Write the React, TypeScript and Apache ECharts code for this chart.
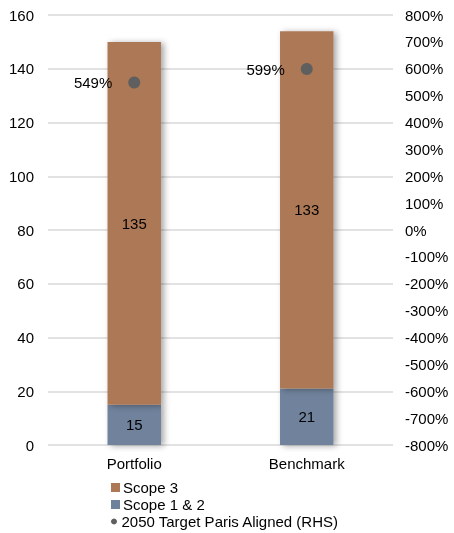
import React, { useEffect, useRef } from "react";
import * as echarts from "echarts";

const categories = ["Portfolio", "Benchmark"];
const scope12 = [15, 21];
const scope3 = [135, 133];
const targetPct = [549, 599];

const leftTicks = { min: 0, max: 160, interval: 20 };
const rightTicks = { min: -800, max: 800, interval: 100 };

const legendItems = [
  { name: "Scope 3", icon: "rect" },
  { name: "Scope 1 & 2", icon: "rect" },
  { name: "2050 Target Paris Aligned (RHS)", icon: "circle" },
];

export default function App() {
  const ref = useRef<HTMLDivElement>(null);

  useEffect(() => {
    if (!ref.current) return;
    const chart = echarts.init(ref.current, null, { renderer: "svg" });
    const font = "'Liberation Sans', Arial, sans-serif";
    const barShadow = {
      shadowBlur: 6,
      shadowOffsetX: 3,
      shadowOffsetY: 1,
      shadowColor: "rgba(0,0,0,0.35)",
    };
    chart.setOption({
      animation: false,
      textStyle: { fontFamily: font },
      grid: { left: 48, right: 61, top: 15, bottom: 88 },
      // one single-row legend per entry so they stack as a column
      legend: legendItems.map((it, i) => ({
        orient: "horizontal",
        left: 111,
        top: 480 + i * 17,
        height: 17,
        padding: 0,
        itemWidth: 9,
        itemHeight: it.icon === "circle" ? 6 : 9,
        itemGap: 0,
        textStyle: { fontSize: 15, color: "#000", fontFamily: font, padding: [0, 0, 0, -2] },
        data: [{ name: it.name, icon: it.icon }],
      })),
      xAxis: {
        type: "category",
        data: categories,
        axisLine: { show: false },
        axisTick: { show: false },
        axisLabel: { fontSize: 15, color: "#000", margin: 11, fontFamily: font },
      },
      yAxis: [
        {
          type: "value",
          ...leftTicks,
          axisLine: { show: false },
          axisTick: { show: false },
          axisLabel: { fontSize: 15, color: "#000", margin: 14, fontFamily: font },
          splitLine: { lineStyle: { color: "#d9d9d9", width: 1.5 } },
        },
        {
          type: "value",
          ...rightTicks,
          position: "right",
          axisLine: { show: false },
          axisTick: { show: false },
          axisLabel: { fontSize: 15, color: "#000", margin: 12, formatter: "{value}%", fontFamily: font },
          splitLine: { show: false },
        },
      ],
      series: [
        {
          name: "Scope 1 & 2",
          type: "bar",
          stack: "total",
          data: scope12,
          barWidth: "31%",
          itemStyle: { color: "#6f829c", ...barShadow },
          label: { show: true, position: "inside", fontSize: 15, color: "#000", fontFamily: font },
        },
        {
          name: "Scope 3",
          type: "bar",
          stack: "total",
          data: scope3,
          barWidth: "31%",
          itemStyle: { color: "#ad7856", ...barShadow },
          label: { show: true, position: "inside", fontSize: 15, color: "#000", fontFamily: font },
        },
        {
          name: "2050 Target Paris Aligned (RHS)",
          type: "scatter",
          yAxisIndex: 1,
          data: targetPct,
          symbolSize: 12,
          itemStyle: { color: "#5f5f5f", opacity: 1 },
          label: {
            show: true,
            position: "left",
            distance: 16,
            fontSize: 15,
            color: "#000",
            fontFamily: font,
            formatter: "{c}%",
          },
          z: 5,
        },
      ],
    });
    return () => chart.dispose();
  }, []);

  return (
    <div
      ref={ref}
      style={{ position: "fixed", left: 0, top: 0, width: 454, height: 533 }}
    />
  );
}
